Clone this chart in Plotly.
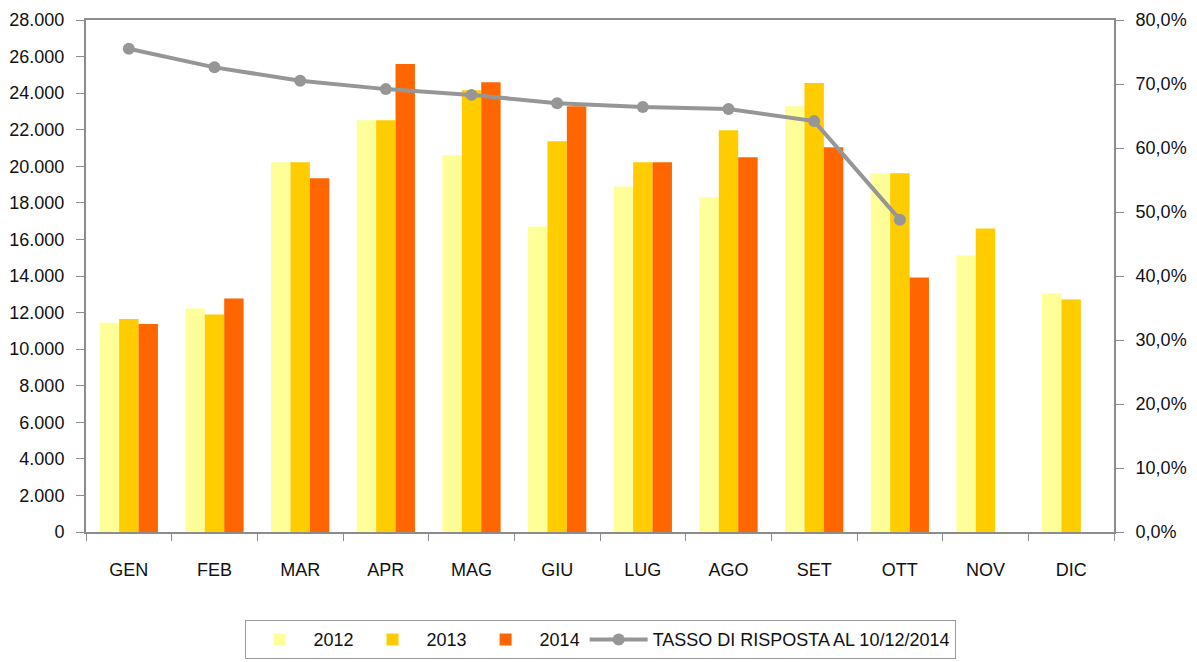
import plotly.graph_objects as go

months = ["GEN", "FEB", "MAR", "APR", "MAG", "GIU", "LUG", "AGO", "SET", "OTT", "NOV", "DIC"]
v2012 = [11450, 12220, 20220, 22520, 20600, 16710, 18900, 18300, 23290, 19620, 15120, 13040]
v2013 = [11650, 11890, 20220, 22520, 24160, 21370, 20220, 21970, 24550, 19620, 16600, 12710]
v2014 = [11380, 12770, 19340, 25590, 24600, 23290, 20220, 20490, 21040, 13920, None, None]
tasso = [0.755, 0.726, 0.705, 0.692, 0.683, 0.670, 0.664, 0.661, 0.642, 0.488, None, None]

font_family = "Liberation Sans Narrow, Arial Narrow, Liberation Sans, Arial"
axis_grey = "#8c8c8c"

fig = go.Figure()
fig.add_trace(go.Bar(x=months, y=v2012, name="2012", marker=dict(color="#FFFF99", line=dict(width=0))))
fig.add_trace(go.Bar(x=months, y=v2013, name="2013", marker=dict(color="#FFCC00", line=dict(width=0))))
fig.add_trace(go.Bar(x=months, y=v2014, name="2014", marker=dict(color="#FF6600", line=dict(width=0))))
fig.add_trace(go.Scatter(
    x=months, y=tasso, name="TASSO DI RISPOSTA AL 10/12/2014", yaxis="y2",
    mode="lines+markers", line=dict(color="#969696", width=4),
    marker=dict(color="#969696", size=12)
))

fig.update_layout(
    width=1197, height=662,
    margin=dict(l=78, r=91, t=12, b=137),
    plot_bgcolor="white", paper_bgcolor="white",
    font=dict(family=font_family, size=18, color="#111"),
    separators=",.",
    barmode="group", bargap=0.32, bargroupgap=0,
    showlegend=True,
    legend=dict(orientation="h", x=0.5, xanchor="center", y=-0.17, yanchor="top",
                bordercolor="#999", borderwidth=1, font=dict(size=18),
                traceorder="normal", itemwidth=58),
    xaxis=dict(range=[-0.5, 11.5], automargin=False, showline=True,
               linecolor=axis_grey, linewidth=2, ticks="outside",
               tickson="boundaries", ticklen=7, tickcolor=axis_grey, mirror=True,
               showgrid=False, ticklabelstandoff=20),
    yaxis=dict(range=[0, 28000], dtick=2000, tickformat=",d", automargin=False,
               showline=True, linecolor=axis_grey, linewidth=2, ticks="outside",
               ticklen=8, tickcolor=axis_grey, showgrid=False, zeroline=False,
               ticklabelstandoff=8),
    yaxis2=dict(range=[0, 0.8], dtick=0.1, tickformat=".1%", overlaying="y",
                automargin=False, side="right", showline=True, linecolor=axis_grey,
                linewidth=2, ticks="outside", ticklen=8, tickcolor=axis_grey,
                showgrid=False, zeroline=False, ticklabelstandoff=8),
)

fig.write_html("out.html")
